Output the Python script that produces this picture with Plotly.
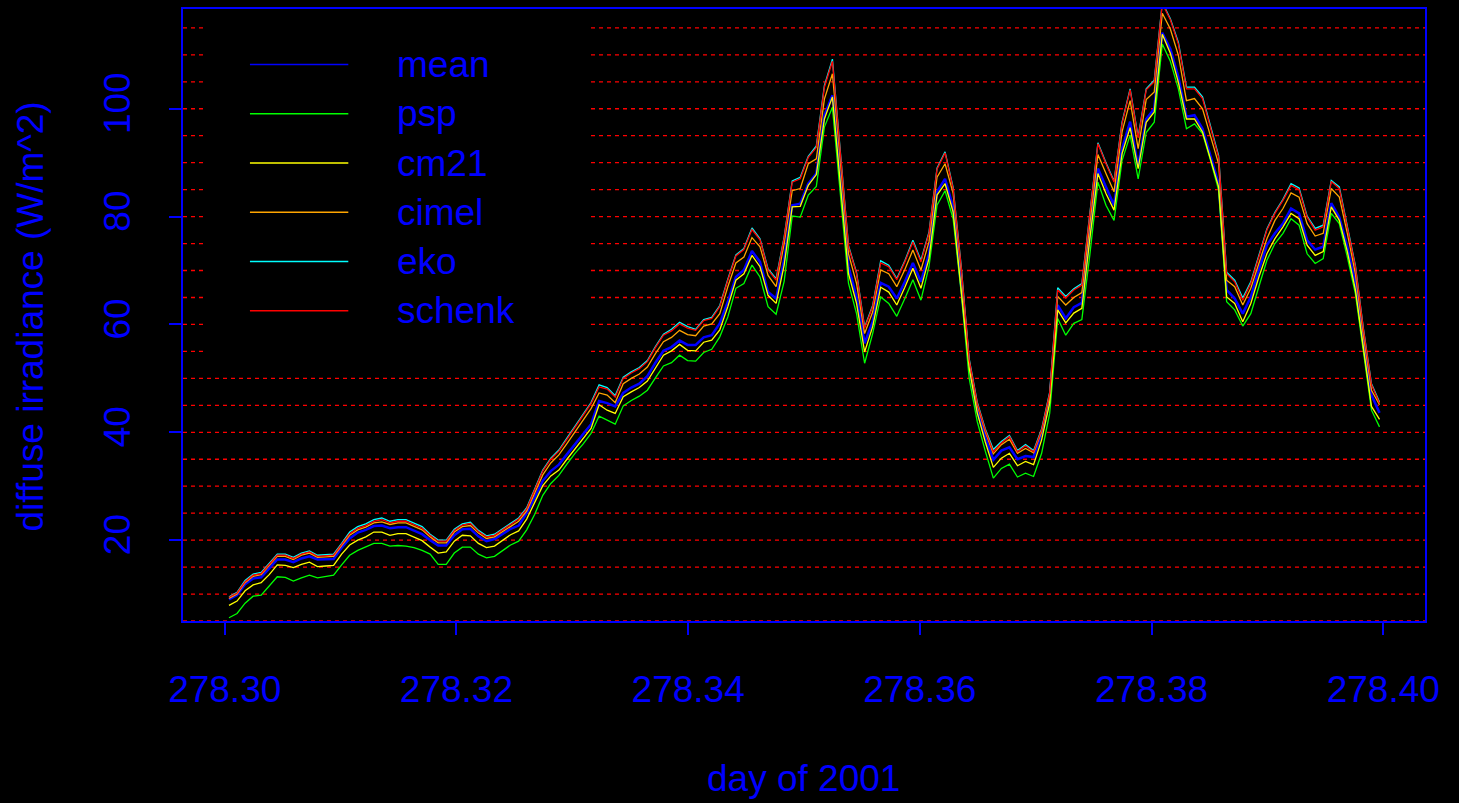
import numpy as np
import plotly.graph_objects as go

# one-minute samples, day of year 2001
day = 278.30037 + np.arange(144) / 1440.0

mean = [9.0, 9.8, 11.8, 12.9, 13.1, 14.7, 16.4, 16.4, 15.9, 16.6,
        17.0, 16.4, 16.4, 16.5, 18.6, 20.3, 21.4, 21.9, 22.6, 22.7,
        22.2, 22.4, 22.4, 21.8, 21.1, 20.0, 19.0, 19.0, 20.9, 22.0,
        22.1, 20.7, 19.8, 20.2, 21.1, 22.1, 22.7, 25.0, 27.9, 31.0,
        32.8, 34.0, 35.9, 37.8, 39.6, 41.5, 45.8, 45.4, 44.8, 47.3,
        48.3, 49.0, 50.4, 52.9, 55.1, 55.8, 57.0, 56.2, 56.2, 57.6,
        58.0, 60.2, 64.2, 68.8, 70.1, 73.6, 71.6, 66.0, 64.8, 72.0,
        82.1, 82.4, 86.1, 88.0, 98.8, 102.5, 86.0, 70.7, 65.1, 56.5,
        60.5, 67.7, 67.0, 64.8, 67.9, 71.4, 67.9, 73.1, 84.6, 87.0,
        81.8, 67.5, 52.3, 44.0, 39.0, 34.9, 36.6, 37.2, 35.0, 35.6,
        35.4, 39.8, 46.0, 63.6, 61.1, 63.2, 64.0, 77.0, 88.9, 85.5,
        82.1, 92.6, 97.6, 89.3, 98.1, 100.0, 114.1, 111.1, 105.9, 98.5,
        98.8, 96.3, 91.4, 86.1, 66.4, 64.8, 62.0, 65.1, 70.1, 74.7,
        76.9, 78.7, 81.5, 80.6, 75.6, 73.9, 74.4, 82.5, 79.9, 74.4,
        67.6, 56.5, 46.9, 43.6]

psp = [5.6, 6.4, 8.3, 9.6, 9.8, 11.5, 13.2, 13.1, 12.4, 13.0,
       13.5, 13.0, 13.3, 13.5, 15.4, 17.2, 18.1, 18.7, 19.4, 19.4,
       18.9, 19.0, 18.9, 18.6, 18.1, 17.4, 15.5, 15.5, 17.6, 18.7,
       18.7, 17.4, 16.7, 17.0, 18.0, 19.1, 19.8, 21.9, 24.8, 28.3,
       30.5, 32.0, 34.1, 36.1, 37.8, 39.8, 43.0, 42.2, 41.5, 44.9,
       45.9, 46.7, 47.8, 50.1, 52.3, 52.9, 54.3, 53.3, 53.2, 54.8,
       55.4, 57.7, 61.4, 66.7, 67.6, 71.0, 68.8, 63.3, 61.9, 68.0,
       80.1, 79.9, 84.0, 85.6, 96.6, 100.3, 84.0, 67.6, 62.0, 52.8,
       58.3, 65.1, 63.9, 61.5, 64.8, 68.3, 64.5, 70.7, 82.1, 84.8,
       79.6, 66.0, 50.0, 42.0, 36.5, 31.5, 33.3, 34.1, 31.7, 32.4,
       31.8, 36.1, 43.5, 61.1, 58.0, 60.2, 60.9, 73.0, 86.4, 82.1,
       79.3, 90.4, 95.1, 87.0, 95.6, 97.5, 112.0, 108.8, 103.7, 96.3,
       97.2, 95.4, 90.4, 84.9, 64.2, 62.7, 59.7, 62.0, 67.0, 71.9,
       75.0, 76.9, 79.6, 78.4, 73.1, 71.3, 72.2, 80.6, 78.7, 72.5,
       65.7, 54.6, 44.1, 41.0]

cm21 = [7.9, 8.7, 10.6, 11.7, 12.1, 13.6, 15.4, 15.3, 14.9, 15.5,
        15.9, 15.1, 15.2, 15.3, 17.4, 19.1, 20.0, 20.6, 21.5, 21.5,
        20.9, 21.2, 21.2, 20.6, 19.9, 18.7, 17.6, 17.8, 19.8, 20.9,
        20.8, 19.4, 18.6, 18.9, 19.9, 21.0, 21.7, 23.9, 27.0, 30.1,
        31.9, 33.0, 35.0, 36.9, 38.7, 40.7, 45.1, 44.1, 43.5, 46.6,
        47.5, 48.3, 49.5, 52.0, 54.3, 55.1, 56.3, 55.2, 55.1, 56.7,
        57.1, 59.0, 63.3, 68.2, 69.4, 72.8, 70.7, 65.4, 63.9, 71.0,
        81.8, 81.9, 85.8, 87.8, 98.1, 102.2, 85.5, 69.4, 63.9, 54.9,
        59.6, 66.9, 66.0, 63.6, 66.9, 70.4, 66.7, 72.2, 84.0, 86.1,
        80.9, 67.0, 51.9, 43.6, 38.2, 33.5, 35.2, 36.1, 33.8, 34.6,
        34.0, 38.6, 45.4, 62.7, 60.3, 62.1, 63.0, 76.0, 88.0, 84.3,
        81.2, 91.7, 96.5, 88.9, 97.5, 99.4, 113.8, 110.3, 104.9, 98.1,
        98.1, 95.7, 90.7, 85.5, 65.1, 63.9, 60.5, 63.9, 68.8, 73.1,
        75.9, 78.1, 80.6, 79.6, 74.7, 72.8, 73.5, 81.8, 79.3, 73.5,
        66.4, 55.6, 44.8, 42.4]

cimel = [9.2, 10.0, 12.1, 13.3, 13.6, 15.2, 17.0, 17.0, 16.4, 17.2,
         17.6, 16.8, 16.9, 17.0, 19.0, 20.9, 21.9, 22.4, 23.2, 23.4,
         22.9, 23.2, 23.2, 22.6, 21.9, 20.6, 19.5, 19.5, 21.5, 22.5,
         22.7, 21.3, 20.3, 20.6, 21.6, 22.6, 23.5, 25.4, 28.8, 32.1,
         34.3, 35.8, 37.9, 40.1, 42.2, 44.4, 47.3, 46.9, 45.5, 49.0,
         50.0, 50.8, 52.1, 54.6, 56.8, 57.6, 58.9, 58.1, 57.9, 59.7,
         60.1, 62.0, 67.0, 71.4, 72.5, 76.1, 74.4, 69.1, 67.0, 75.0,
         84.8, 85.2, 89.8, 90.7, 101.8, 106.5, 90.0, 73.1, 67.6, 58.3,
         62.3, 70.1, 69.4, 67.0, 70.2, 73.8, 70.1, 75.3, 87.3, 89.8,
         84.3, 70.0, 53.1, 45.1, 40.1, 36.0, 37.7, 38.7, 36.1, 37.0,
         36.2, 40.1, 46.8, 65.2, 63.6, 65.0, 65.9, 79.0, 91.5, 88.0,
         84.6, 95.7, 101.5, 92.6, 101.7, 103.1, 117.7, 114.8, 109.9, 101.5,
         101.9, 100.0, 95.1, 89.8, 68.2, 67.0, 63.6, 66.7, 71.3, 75.9,
         79.3, 81.5, 84.4, 83.6, 78.7, 76.4, 76.9, 85.2, 83.6, 76.9,
         69.4, 58.0, 47.8, 45.1]

eko = [9.5, 10.3, 12.5, 13.7, 14.0, 15.6, 17.4, 17.4, 16.8, 17.6,
       18.0, 17.2, 17.3, 17.4, 19.4, 21.5, 22.5, 23.0, 23.8, 24.1,
       23.5, 23.8, 23.8, 23.2, 22.5, 21.1, 20.0, 20.0, 22.0, 23.0,
       23.3, 21.8, 20.8, 21.1, 22.1, 23.2, 24.1, 26.0, 29.6, 33.0,
       35.2, 36.7, 38.9, 41.1, 43.2, 45.5, 48.8, 48.3, 46.8, 50.2,
       51.2, 52.0, 53.3, 55.9, 58.2, 59.1, 60.4, 59.6, 59.1, 60.9,
       61.3, 63.5, 68.4, 72.9, 74.1, 77.9, 75.9, 70.3, 68.5, 76.2,
       86.6, 87.3, 91.2, 93.1, 104.3, 109.2, 91.8, 74.6, 69.6, 59.5,
       63.5, 71.8, 71.0, 68.5, 71.8, 75.6, 71.9, 77.1, 89.0, 92.0,
       85.4, 70.9, 53.6, 45.6, 40.6, 36.8, 38.3, 39.4, 36.6, 37.7,
       36.6, 40.6, 47.4, 66.8, 65.2, 66.6, 67.6, 80.2, 93.7, 90.0,
       86.6, 97.5, 103.7, 94.8, 103.7, 105.3, 119.7, 116.7, 112.3, 104.0,
       104.0, 102.2, 96.9, 91.3, 69.7, 68.2, 64.9, 67.9, 72.8, 77.7,
       80.8, 83.2, 86.1, 85.3, 80.1, 77.8, 78.4, 86.7, 85.5, 78.4,
       70.9, 59.2, 49.0, 45.6]

schenk = [9.4, 10.2, 12.3, 13.5, 13.8, 15.4, 17.2, 17.2, 16.6, 17.4,
          17.8, 17.0, 17.1, 17.2, 19.2, 21.2, 22.2, 22.7, 23.5, 23.8,
          23.2, 23.5, 23.5, 22.9, 22.2, 20.9, 19.8, 19.8, 21.8, 22.8,
          23.1, 21.6, 20.6, 20.9, 21.9, 23.0, 23.9, 25.8, 29.4, 32.8,
          35.0, 36.5, 38.7, 40.9, 43.0, 45.3, 48.4, 48.0, 46.5, 50.0,
          51.0, 51.8, 53.1, 55.7, 58.0, 58.8, 60.1, 59.3, 58.9, 60.7,
          61.1, 63.3, 68.2, 72.7, 73.9, 77.6, 75.7, 70.1, 68.2, 76.0,
          86.4, 87.0, 91.0, 92.8, 104.0, 108.8, 91.5, 74.4, 69.4, 59.3,
          63.3, 71.4, 70.7, 68.3, 71.6, 75.3, 71.6, 76.9, 88.8, 91.8,
          85.2, 70.7, 53.4, 45.4, 40.4, 36.4, 38.0, 39.2, 36.4, 37.5,
          36.4, 40.4, 47.2, 66.4, 64.9, 66.4, 67.3, 80.0, 93.5, 89.8,
          86.4, 97.3, 103.5, 94.6, 103.5, 105.0, 119.5, 116.5, 112.0, 103.7,
          103.7, 101.9, 96.6, 91.0, 69.4, 67.9, 64.5, 67.6, 72.5, 77.5,
          80.6, 83.0, 85.8, 85.0, 79.9, 77.5, 78.1, 86.5, 85.2, 78.1,
          70.7, 59.0, 48.8, 45.4]

names = ["mean", "psp", "cm21", "cimel", "eko", "schenk"]
series = [mean, psp, cm21, cimel, eko, schenk]
colors = ["#0000FF", "#00FF00", "#FFFF00", "#FFA500", "#00FFFF", "#FF0000"]
widths = [2.5, 1.3, 1.3, 1.3, 1.3, 1.3]

BLUE = "#0000FF"
FONT = "Liberation Sans, Arial, sans-serif"

fig = go.Figure()
for nm, ys, col, w in zip(names, series, colors, widths):
    fig.add_trace(go.Scatter(x=day, y=ys, mode="lines", name=nm,
                             line=dict(color=col, width=w), showlegend=False))

shapes = []
# red dashed horizontal grid every 5
for v in range(5, 120, 5):
    shapes.append(dict(type="line", xref="paper", yref="y", x0=0, x1=1, y0=v, y1=v,
                       line=dict(color="#FF0000", width=1.3, dash="4px,4px"), layer="below"))
# black legend background hides the grid behind it
shapes.append(dict(type="rect", xref="paper", yref="paper", x0=0.0161, x1=0.3277,
                   y0=0.416, y1=0.995, fillcolor="black", line=dict(width=0), layer="below"))

# hand-drawn legend
leg_y = [0.9092, 0.8287, 0.7483, 0.6677, 0.5873, 0.5069]
annotations = []
for nm, col, yy in zip(names, colors, leg_y):
    shapes.append(dict(type="line", xref="paper", yref="paper", x0=0.0539, x1=0.1331,
                       y0=yy, y1=yy, line=dict(color=col, width=1.5), layer="above"))
    annotations.append(dict(text=nm, xref="paper", yref="paper", x=0.1710, y=yy,
                            xanchor="left", yanchor="middle", showarrow=False,
                            font=dict(size=37, color=BLUE, family=FONT)))

annotations.append(dict(text="day of 2001", xref="paper", yref="paper", x=0.4992, y=-0.2577,
                        xanchor="center", yanchor="middle", showarrow=False,
                        font=dict(size=37, color=BLUE, family=FONT)))
annotations.append(dict(text="diffuse irradiance (W/m^2)", xref="paper", yref="paper",
                        x=-0.1232, y=0.4976, xanchor="center", yanchor="middle",
                        textangle=-90, showarrow=False,
                        font=dict(size=37, color=BLUE, family=FONT)))

fig.update_layout(
    width=1459, height=803,
    paper_bgcolor="black", plot_bgcolor="black",
    margin=dict(l=183, r=34, t=7, b=182),
    font=dict(family=FONT, size=37, color=BLUE),
    shapes=shapes, annotations=annotations,
    showlegend=False,
)
fig.update_xaxes(range=[278.2964, 278.4036], tick0=278.30, dtick=0.02, tickformat=".2f",
                 showgrid=False, zeroline=False, showline=True, mirror=True,
                 linecolor=BLUE, linewidth=1.5, ticks="outside", ticklen=12,
                 tickcolor=BLUE, tickwidth=1.5, ticklabelstandoff=23,
                 tickfont=dict(size=37, color=BLUE, family=FONT))
fig.update_yaxes(range=[5, 118.5], tickvals=[20, 40, 60, 80, 100], tickangle=-90,
                 showgrid=False, zeroline=False, showline=True, mirror=True,
                 linecolor=BLUE, linewidth=1.5, ticks="outside", ticklen=12,
                 tickcolor=BLUE, tickwidth=1.5, ticklabelstandoff=24,
                 tickfont=dict(size=37, color=BLUE, family=FONT))

fig.write_html("out.html", config={"displayModeBar": False},
               post_script="document.body.style.margin='0';document.body.style.background='black';")
